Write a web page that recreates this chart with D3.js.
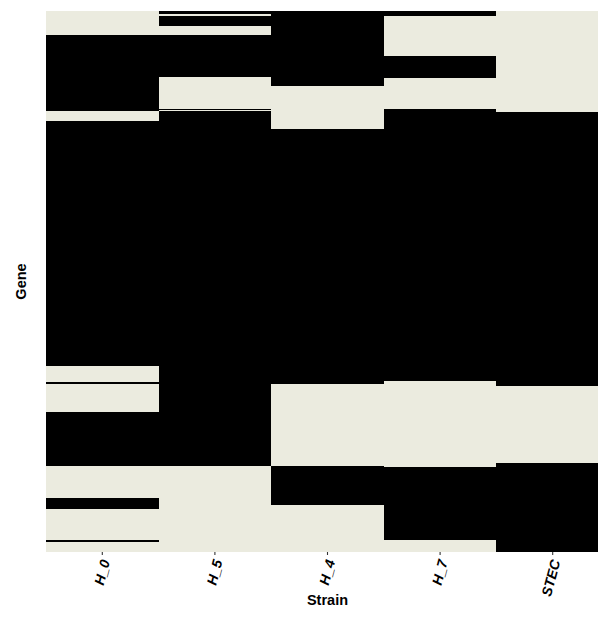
<!DOCTYPE html>
<html>
<head>
<meta charset="utf-8">
<script src="https://cdn.jsdelivr.net/npm/d3@7"></script>
<style>
  body { margin: 0; background: #fff; }
  text { font-family: "Liberation Sans", Arial, sans-serif; }
</style>
</head>
<body>
<svg id="chart" width="598" height="621"></svg>
<script>
// strains on the x axis
const strains = ["H_0", "H_5", "H_4", "H_7", "STEC"];

// runs of genes from top to bottom, count of genes in each run
const h0Runs = [23, 73, 10, 235, 16, 2, 26, 52, 31, 11, 29, 2, 10];
const h5Runs = [3, 2, 9, 9, 40, 31, 1, 1, 341, 83];
const h4Runs = [72, 41, 246, 78, 38, 45];
const h7Runs = [5, 38, 21, 30, 262, 82, 70, 12];
const stecRuns = [97, 263, 74, 86];

// 1 = gene present (black), 0 = absent
const h0State = [0, 1, 0, 1, 0, 1, 0, 1, 0, 1, 0, 1, 0];
const h5State = [1, 0, 1, 0, 1, 0, 1, 0, 1, 0];
const h4State = [1, 0, 1, 0, 1, 0];
const h7State = [1, 0, 1, 0, 1, 0, 1, 0];
const stecState = [0, 1, 0, 1];

const runs = [h0Runs, h5Runs, h4Runs, h7Runs, stecRuns];
const states = [h0State, h5State, h4State, h7State, stecState];

// build the tiles: each strain is a column of stacked runs
let tiles = [];
strains.forEach(function (s, i) {
    let start = 0;
    runs[i].forEach(function (n, j) {
        tiles.push({strain: s, y0: start, y1: start + n, present: states[i][j]});
        start += n;
    });
});

let margin = {top: 11, left: 46};
let plotW = 563, plotH = 541;
let totalGenes = d3.max(runs, r => d3.sum(r));

let svg = d3.select("#chart");

let xScale = d3.scaleBand()
    .domain(strains)
    .range([margin.left, margin.left + plotW])
    .padding(0);
let yScale = d3.scaleLinear()
    .domain([0, totalGenes])
    .range([margin.top, margin.top + plotH]);

let colorScale = d3.scaleOrdinal()
    .domain([0, 1])
    .range(["#ebebdf", "#000000"]);

svg.append("g").attr("id", "tiles")
    .selectAll("rect")
    .data(tiles)
    .enter().append("rect")
    .attr("x", d => xScale(d.strain))
    .attr("y", d => yScale(d.y0))
    .attr("width", xScale.bandwidth())
    .attr("height", d => yScale(d.y1) - yScale(d.y0))
    .attr("shape-rendering", "crispEdges")
    .style("fill", d => colorScale(d.present));

// x axis
let xAxis = d3.axisBottom(xScale).tickSize(3).tickPadding(2);
let gx = svg.append("g")
    .attr("transform", "translate(0," + (margin.top + plotH) + ")")
    .call(xAxis);
gx.select(".domain").remove();
gx.selectAll(".tick line").attr("stroke", "#333333").attr("stroke-width", 1.1);
gx.selectAll(".tick text")
    .attr("y", 0)
    .attr("x", 0)
    .attr("dy", "0.35em")
    .attr("transform", "translate(3,8) rotate(-75)")
    .style("text-anchor", "end")
    .style("font-size", "14px")
    .style("font-weight", "bold")
    .style("font-style", "italic")
    .style("fill", "#000");

// axis titles
svg.append("text")
    .attr("x", margin.left + plotW / 2)
    .attr("y", 605)
    .attr("text-anchor", "middle")
    .style("font-size", "14.5px")
    .style("font-weight", "bold")
    .text("Strain");

svg.append("text")
    .attr("transform", "translate(26," + (margin.top + plotH / 2) + ") rotate(-90)")
    .attr("text-anchor", "middle")
    .style("font-size", "14.5px")
    .style("font-weight", "bold")
    .text("Gene");
</script>
</body>
</html>
